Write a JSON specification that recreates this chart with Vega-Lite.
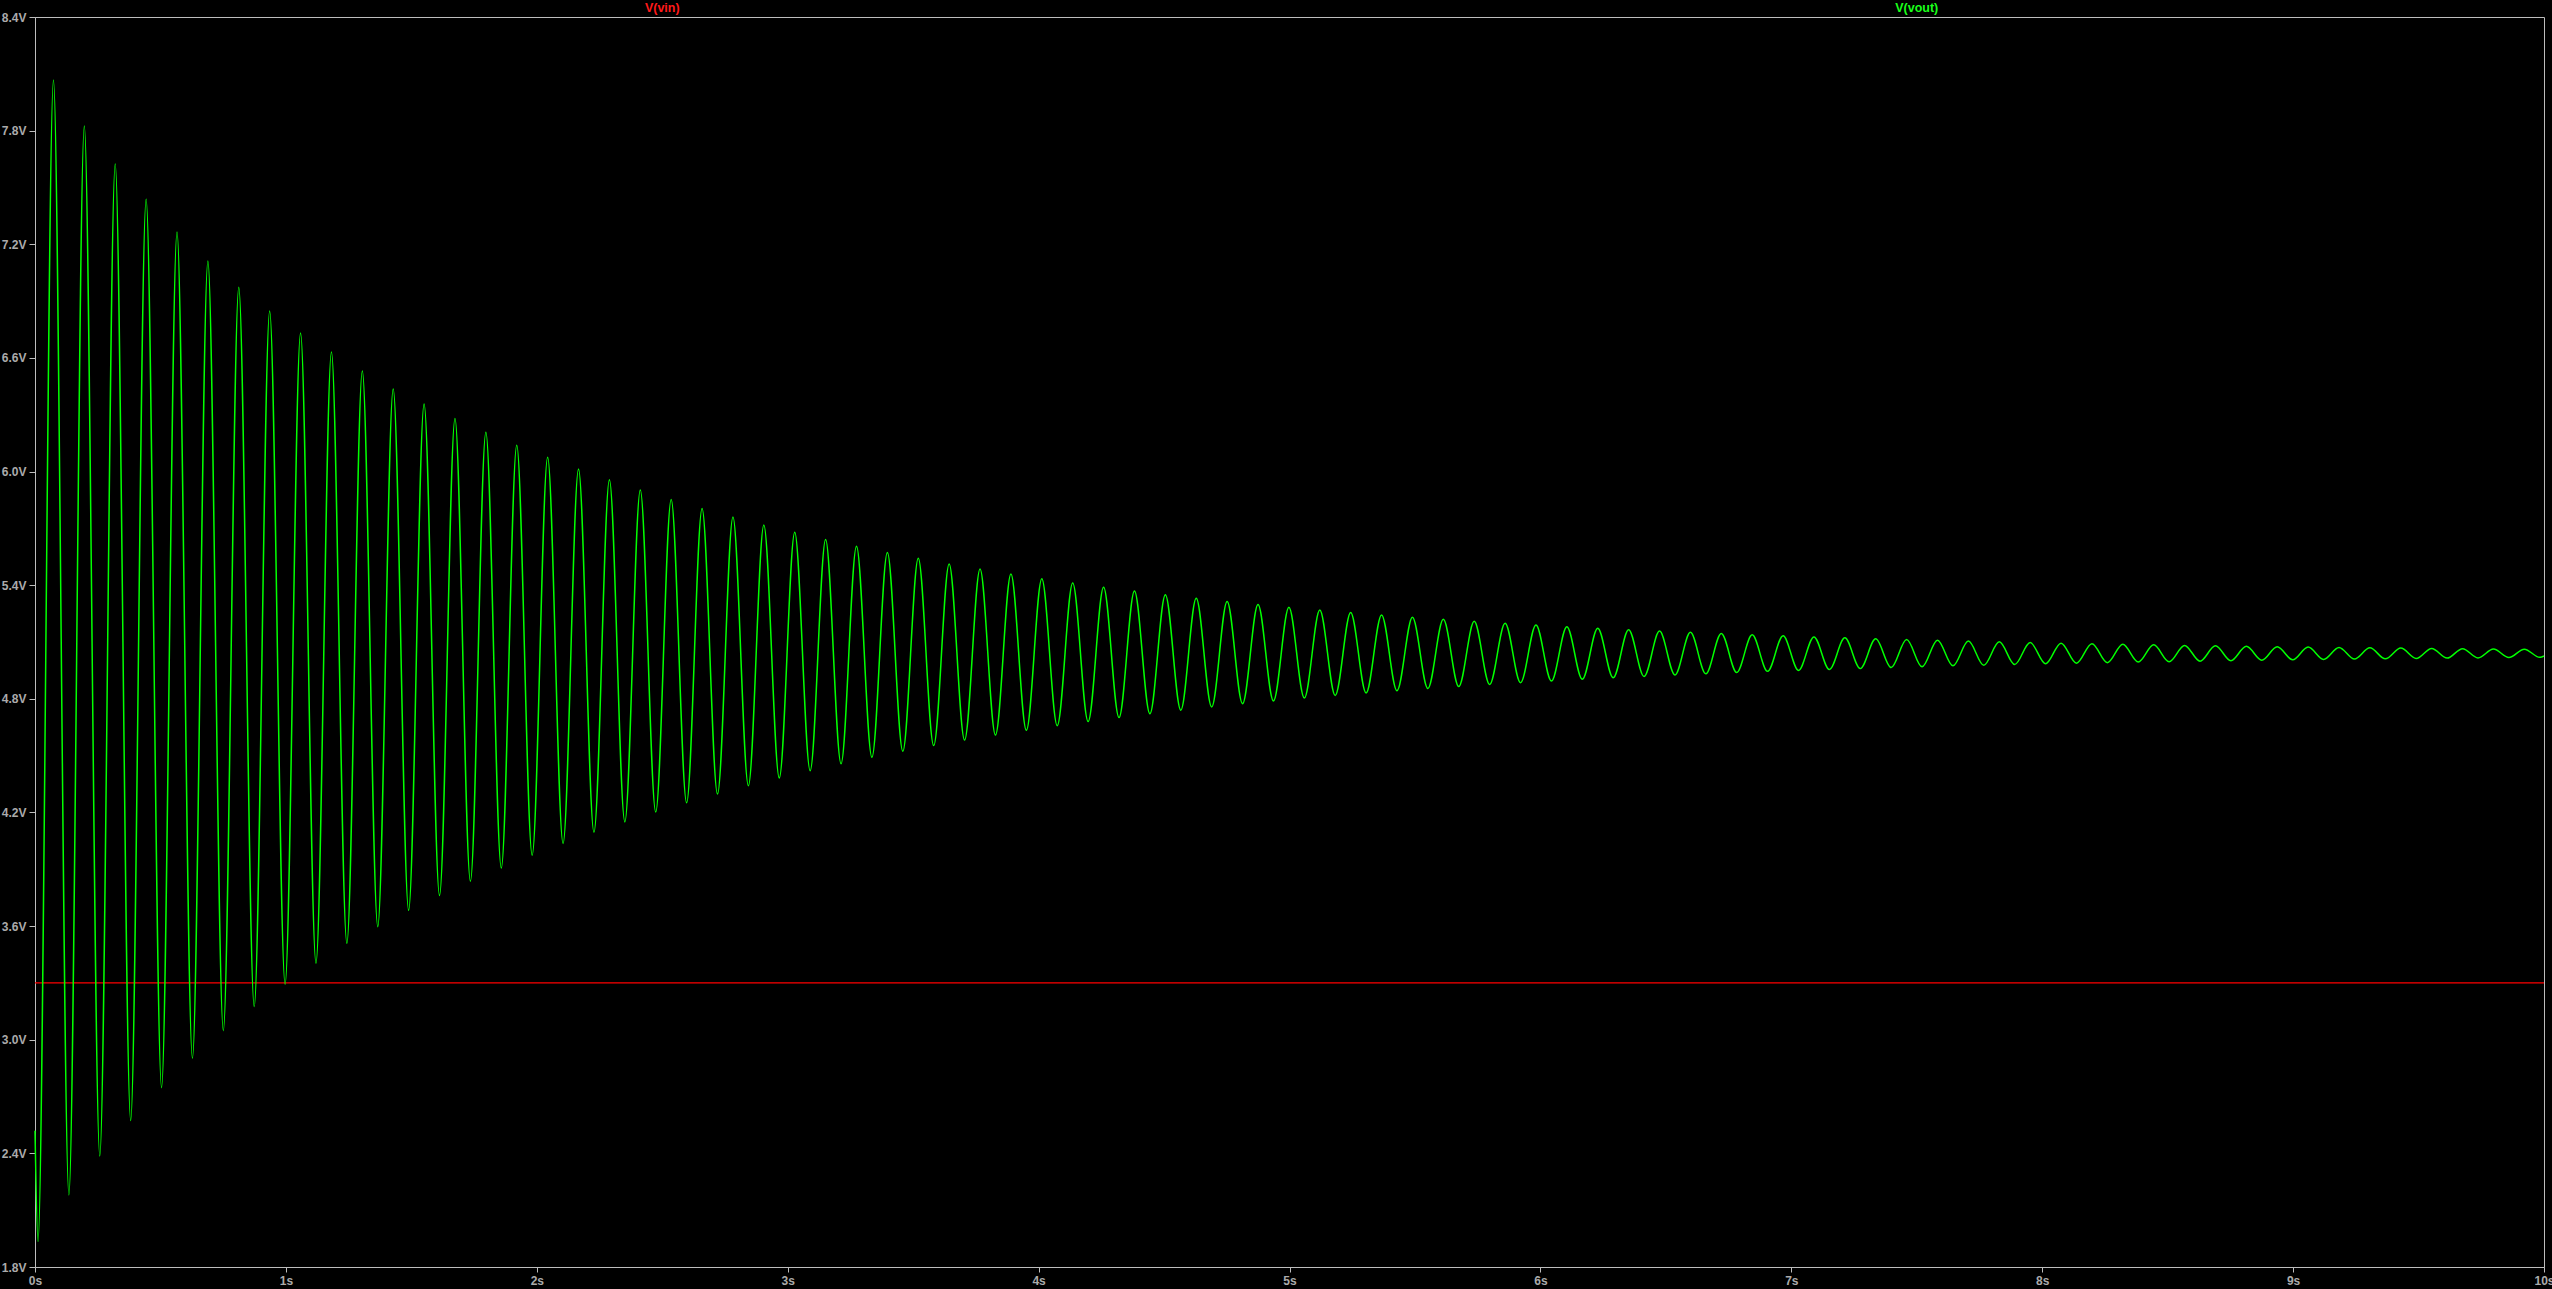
{
  "$schema": "https://vega.github.io/schema/vega-lite/v6.json",
  "width": 2509,
  "height": 1250,
  "autosize": {"type": "none"},
  "padding": {"left": 35, "top": 17, "right": 8, "bottom": 22},
  "background": "#000000",
  "config": {
    "view": {"stroke": "#bdbdbd", "strokeWidth": 1},
    "axis": {
      "grid": false,
      "domainColor": "#bdbdbd",
      "tickColor": "#bdbdbd",
      "labelColor": "#ababab",
      "labelFont": "Liberation Sans",
      "labelFontWeight": "bold",
      "labelFontSize": 12,
      "title": null
    }
  },
  "datasets": {
    "vout": [
      {"t":0,"v":2.52},{"t":0.012,"v":1.934},{"t":0.0736,"v":8.067},{"t":0.1351,"v":2.18},{"t":0.1966,"v":7.825},
      {"t":0.2582,"v":2.386},{"t":0.3197,"v":7.624},{"t":0.3813,"v":2.573},{"t":0.4429,"v":7.439},{"t":0.5044,"v":2.747},
      {"t":0.566,"v":7.265},{"t":0.6275,"v":2.902},{"t":0.6891,"v":7.112},{"t":0.7506,"v":3.048},{"t":0.8122,"v":6.973},
      {"t":0.8737,"v":3.175},{"t":0.9353,"v":6.848},{"t":0.9968,"v":3.293},{"t":1.0584,"v":6.732},{"t":1.1199,"v":3.404},
      {"t":1.1815,"v":6.631},{"t":1.243,"v":3.509},{"t":1.3046,"v":6.531},{"t":1.3661,"v":3.597},{"t":1.4277,"v":6.436},
      {"t":1.4892,"v":3.683},{"t":1.5508,"v":6.357},{"t":1.6123,"v":3.762},{"t":1.6739,"v":6.28},{"t":1.7354,"v":3.837},
      {"t":1.797,"v":6.207},{"t":1.8585,"v":3.907},{"t":1.9201,"v":6.139},{"t":1.9816,"v":3.974},{"t":2.0432,"v":6.075},
      {"t":2.1047,"v":4.036},{"t":2.1663,"v":6.014},{"t":2.2278,"v":4.095},{"t":2.2894,"v":5.957},{"t":2.3509,"v":4.15},
      {"t":2.4125,"v":5.903},{"t":2.474,"v":4.202},{"t":2.5356,"v":5.853},{"t":2.5971,"v":4.251},{"t":2.6587,"v":5.805},
      {"t":2.7202,"v":4.297},{"t":2.7818,"v":5.76},{"t":2.8433,"v":4.341},{"t":2.9049,"v":5.718},{"t":2.9664,"v":4.382},
      {"t":3.028,"v":5.679},{"t":3.0895,"v":4.42},{"t":3.1511,"v":5.641},{"t":3.2126,"v":4.457},{"t":3.2742,"v":5.606},
      {"t":3.3357,"v":4.491},{"t":3.3973,"v":5.573},{"t":3.4588,"v":4.523},{"t":3.5204,"v":5.542},{"t":3.5819,"v":4.553},
      {"t":3.6435,"v":5.512},{"t":3.705,"v":4.582},{"t":3.7666,"v":5.485},{"t":3.8281,"v":4.609},{"t":3.8897,"v":5.459},
      {"t":3.9512,"v":4.634},{"t":4.0128,"v":5.434},{"t":4.0743,"v":4.658},{"t":4.1359,"v":5.411},{"t":4.1974,"v":4.68},
      {"t":4.259,"v":5.389},{"t":4.3205,"v":4.701},{"t":4.3821,"v":5.369},{"t":4.4436,"v":4.721},{"t":4.5052,"v":5.35},
      {"t":4.5667,"v":4.74},{"t":4.6283,"v":5.331},{"t":4.6898,"v":4.757},{"t":4.7514,"v":5.314},{"t":4.8129,"v":4.774},
      {"t":4.8745,"v":5.298},{"t":4.936,"v":4.789},{"t":4.9976,"v":5.283},{"t":5.0591,"v":4.804},{"t":5.1207,"v":5.269},
      {"t":5.1822,"v":4.818},{"t":5.2438,"v":5.256},{"t":5.3053,"v":4.831},{"t":5.3669,"v":5.243},{"t":5.4284,"v":4.843},
      {"t":5.49,"v":5.231},{"t":5.5515,"v":4.855},{"t":5.6131,"v":5.22},{"t":5.6746,"v":4.865},{"t":5.7362,"v":5.209},
      {"t":5.7977,"v":4.876},{"t":5.8593,"v":5.199},{"t":5.9208,"v":4.885},{"t":5.9824,"v":5.19},{"t":6.0439,"v":4.894},
      {"t":6.1055,"v":5.181},{"t":6.167,"v":4.903},{"t":6.2286,"v":5.173},{"t":6.2901,"v":4.911},{"t":6.3517,"v":5.165},
      {"t":6.4132,"v":4.918},{"t":6.4748,"v":5.158},{"t":6.5363,"v":4.926},{"t":6.5979,"v":5.151},{"t":6.6594,"v":4.932},
      {"t":6.721,"v":5.145},{"t":6.7825,"v":4.939},{"t":6.8441,"v":5.138},{"t":6.9056,"v":4.945},{"t":6.9672,"v":5.133},
      {"t":7.0287,"v":4.95},{"t":7.0903,"v":5.127},{"t":7.1518,"v":4.955},{"t":7.2134,"v":5.122},{"t":7.2749,"v":4.96},
      {"t":7.3365,"v":5.117},{"t":7.398,"v":4.965},{"t":7.4596,"v":5.113},{"t":7.5211,"v":4.969},{"t":7.5827,"v":5.109},
      {"t":7.6442,"v":4.974},{"t":7.7058,"v":5.105},{"t":7.7673,"v":4.977},{"t":7.8289,"v":5.101},{"t":7.8904,"v":4.981},
      {"t":7.952,"v":5.097},{"t":8.0135,"v":4.985},{"t":8.0751,"v":5.094},{"t":8.1366,"v":4.988},{"t":8.1982,"v":5.091},
      {"t":8.2597,"v":4.991},{"t":8.3213,"v":5.088},{"t":8.3828,"v":4.994},{"t":8.4444,"v":5.085},{"t":8.5059,"v":4.996},
      {"t":8.5675,"v":5.082},{"t":8.629,"v":4.999},{"t":8.6906,"v":5.08},{"t":8.7521,"v":5.001},{"t":8.8137,"v":5.077},
      {"t":8.8752,"v":5.004},{"t":8.9368,"v":5.075},{"t":8.9983,"v":5.006},{"t":9.0599,"v":5.073},{"t":9.1214,"v":5.008},
      {"t":9.183,"v":5.071},{"t":9.2445,"v":5.01},{"t":9.3061,"v":5.069},{"t":9.3676,"v":5.011},{"t":9.4292,"v":5.068},
      {"t":9.4907,"v":5.013},{"t":9.5523,"v":5.066},{"t":9.6138,"v":5.015},{"t":9.6754,"v":5.065},{"t":9.7369,"v":5.016},
      {"t":9.7985,"v":5.063},{"t":9.86,"v":5.018},{"t":9.9216,"v":5.062},{"t":9.9831,"v":5.019},{"t":10,"v":5.026}
    ],
    "vin": [{"t":0,"v":3.3},{"t":10,"v":3.3}],
    "labels": [{"name":"V(vin)","t":2.5},{"name":"V(vout)","t":7.5}]
  },
  "layer": [
    {
      "data": {"name": "vin"},
      "mark": {"type": "line", "color": "#ff0000", "strokeWidth": 1.3},
      "encoding": {
        "x": {"field": "t", "type": "quantitative", "scale": {"domain": [0, 10], "nice": false, "zero": false},
              "axis": {"values": [0,1,2,3,4,5,6,7,8,9,10], "labelExpr": "datum.value + 's'", "tickSize": 5, "labelPadding": 3, "labelFlush": false, "labelOverlap": false}},
        "y": {"field": "v", "type": "quantitative", "scale": {"domain": [1.8, 8.4], "nice": false, "zero": false},
              "axis": {"values": [1.8,2.4,3.0,3.6,4.2,4.8,5.4,6.0,6.6,7.2,7.8,8.4], "labelExpr": "format(datum.value, '.1f') + 'V'", "tickSize": 6, "labelPadding": 3, "labelFlush": false, "labelOverlap": false}}
      }
    },
    {
      "data": {"name": "vout"},
      "mark": {"type": "line", "color": "#00ff00", "strokeWidth": 1.5, "interpolate": "monotone"},
      "encoding": {
        "x": {"field": "t", "type": "quantitative"},
        "y": {"field": "v", "type": "quantitative"}
      }
    },
    {
      "data": {"name": "labels"},
      "mark": {"type": "text", "font": "Liberation Sans", "fontWeight": "bold", "fontSize": 12.5, "baseline": "middle", "align": "center", "dy": -9, "clip": false},
      "encoding": {
        "x": {"field": "t", "type": "quantitative"},
        "y": {"datum": 8.4},
        "text": {"field": "name"},
        "color": {"field": "name", "type": "nominal", "scale": {"domain": ["V(vin)", "V(vout)"], "range": ["#ff1a1a", "#1aff1a"]}, "legend": null}
      }
    }
  ]
}
